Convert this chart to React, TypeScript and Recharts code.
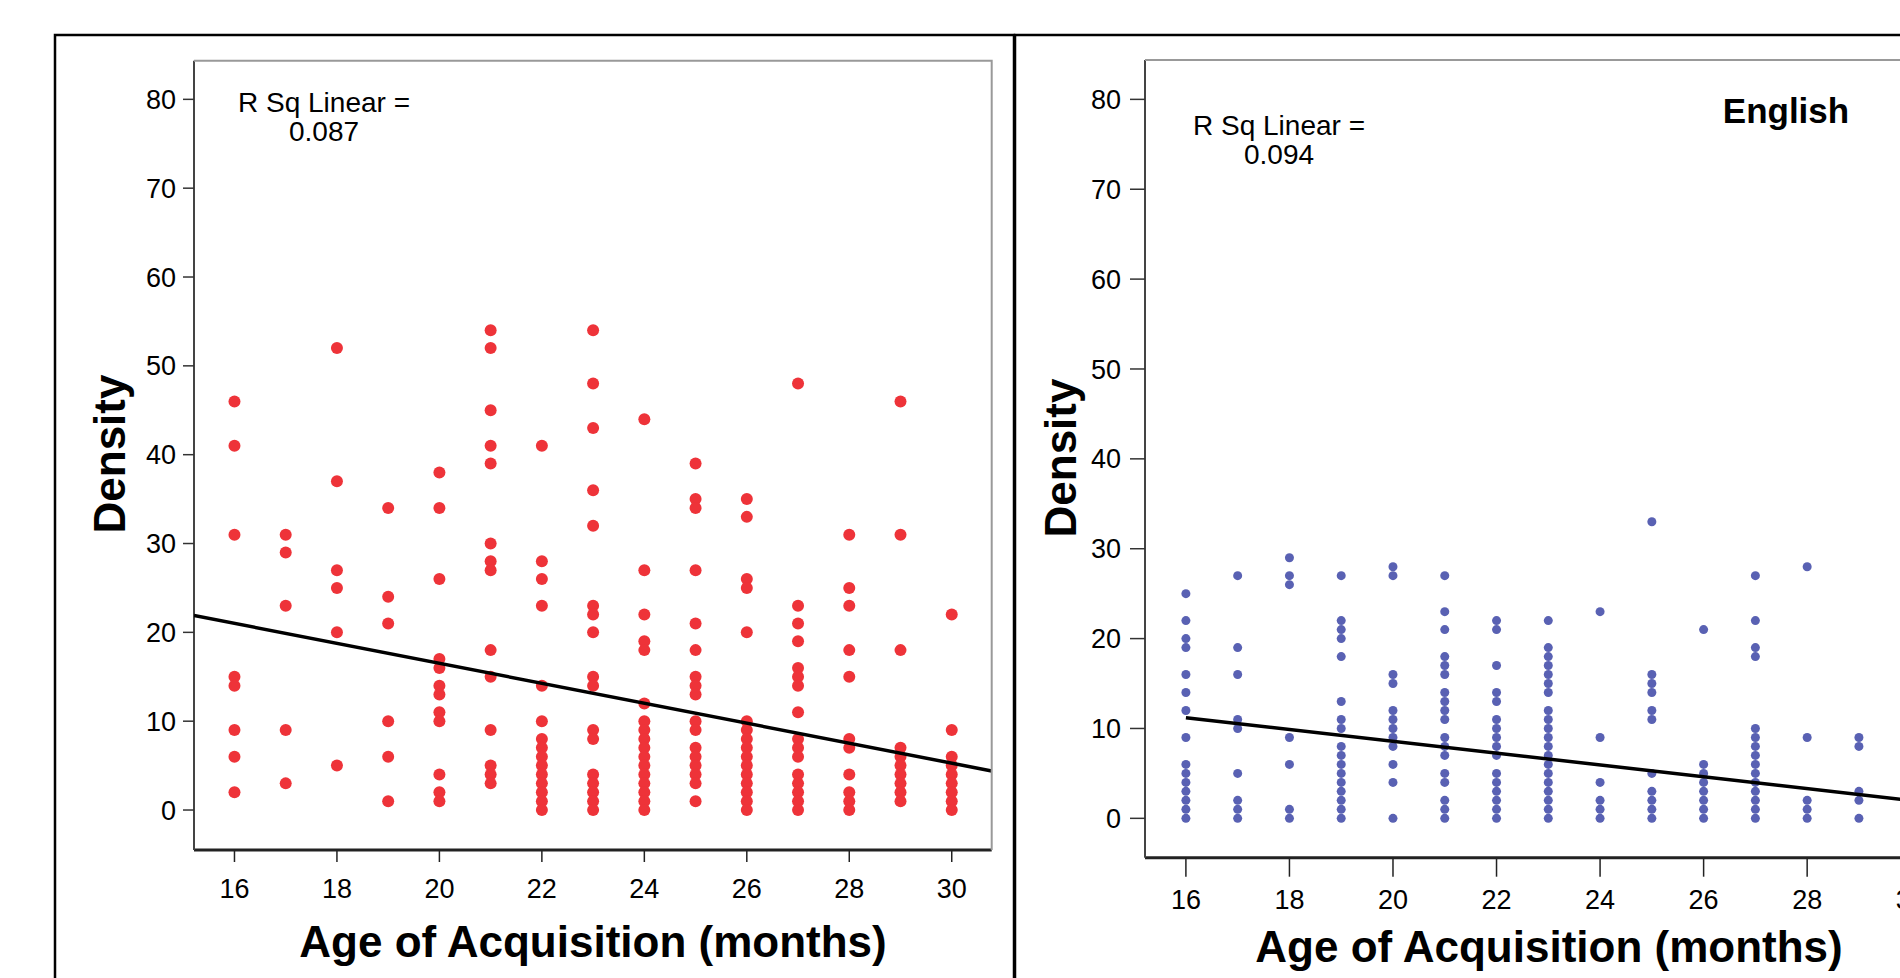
import { Scatter, ScatterChart, XAxis, YAxis } from "recharts";

const FONT = "'Liberation Sans', Arial, Helvetica, sans-serif";

const ageTicks = [16, 18, 20, 22, 24, 26, 28, 30];
const densityTicks = [0, 10, 20, 30, 40, 50, 60, 70, 80];

// left panel (red), one list of densities per month
const leftAges = [16, 17, 18, 19, 20, 21, 22, 23, 24, 25, 26, 27, 28, 29, 30];
const leftDensity = [
  [46, 41, 31, 15, 14, 9, 6, 2],
  [31, 29, 23, 9, 3],
  [52, 37, 27, 25, 20, 5],
  [34, 24, 21, 10, 6, 1],
  [38, 34, 26, 17, 16, 14, 13, 11, 10, 4, 2, 1],
  [54, 52, 45, 41, 39, 30, 28, 27, 18, 15, 9, 5, 4, 3],
  [41, 28, 26, 23, 14, 10, 8, 7, 6, 5, 4, 3, 2, 1, 0],
  [54, 48, 43, 36, 32, 23, 22, 20, 15, 14, 9, 8, 4, 3, 2, 1, 0],
  [44, 27, 22, 19, 18, 12, 10, 9, 8, 7, 6, 5, 4, 3, 2, 1, 0],
  [39, 35, 34, 27, 21, 18, 15, 14, 13, 10, 9, 7, 6, 5, 4, 3, 1],
  [35, 33, 26, 25, 20, 10, 9, 8, 7, 6, 5, 4, 3, 2, 1, 0],
  [48, 23, 21, 19, 16, 15, 14, 11, 8, 7, 6, 4, 3, 2, 1, 0],
  [31, 25, 23, 18, 15, 8, 7, 4, 2, 1, 0],
  [46, 31, 18, 7, 6, 5, 4, 3, 2, 1],
  [22, 9, 6, 5, 4, 3, 2, 1, 0],
];
const leftFit = [
  { age: 15.21, density: 21.9 },
  { age: 30.78, density: 4.4 },
];

// right panel (English, blue)
const rightAges = [16, 17, 18, 19, 20, 21, 22, 23, 24, 25, 26, 27, 28, 29];
const rightDensity = [
  [25, 22, 20, 19, 16, 14, 12, 9, 6, 5, 4, 3, 2, 1, 0],
  [27, 19, 16, 11, 10, 5, 2, 1, 0],
  [29, 27, 26, 9, 6, 1, 0],
  [27, 22, 21, 20, 18, 13, 11, 10, 8, 7, 6, 5, 4, 3, 2, 1, 0],
  [28, 27, 16, 15, 12, 11, 10, 9, 8, 6, 4, 0],
  [27, 23, 21, 18, 17, 16, 14, 13, 12, 11, 9, 8, 7, 5, 4, 2, 1, 0],
  [22, 21, 17, 14, 13, 11, 10, 9, 8, 7, 5, 4, 3, 2, 1, 0],
  [22, 19, 18, 17, 16, 15, 14, 12, 11, 10, 9, 8, 7, 6, 5, 4, 3, 2, 1, 0],
  [23, 9, 4, 2, 1, 0],
  [33, 16, 15, 14, 12, 11, 5, 3, 2, 1, 0],
  [21, 6, 5, 4, 3, 2, 1, 0],
  [27, 22, 19, 18, 10, 9, 8, 7, 6, 5, 4, 3, 2, 1, 0],
  [28, 9, 2, 1, 0],
  [9, 8, 3, 2, 0],
];
const rightFit = [
  { age: 16, density: 11.2 },
  { age: 30, density: 2.0 },
];

function toPoints(ages: number[], values: number[][]) {
  return ages.flatMap((age, i) => values[i].map((density) => ({ age, density })));
}

interface PanelProps {
  left: number
  width: number
  margin: { top: number; right: number; bottom: number; left: number }
  yAxisWidth: number
  xAxisHeight: number
  xDomain: [number, number]
  yDomain: [number, number]
  points: { age: number; density: number }[]
  fit: { age: number; density: number }[]
  color: string
  radius: number
  xTick: [number, number]
  yTick: [number, number]
}

function Panel(p: PanelProps) {
  const tickStyle = { fill: "#000", fontSize: 27, fontFamily: FONT };
  const dot = (s: any) => <circle cx={s.cx} cy={s.cy} r={p.radius} fill={p.color} />;
  return (
    <div style={{ position: "absolute", left: p.left, top: 0 }}>
      <ScatterChart width={p.width} height={978} margin={p.margin}>
        <XAxis
          type="number"
          dataKey="age"
          domain={p.xDomain}
          ticks={ageTicks}
          allowDataOverflow
          height={p.xAxisHeight}
          tickSize={p.xTick[0]}
          tickMargin={p.xTick[1]}
          tick={tickStyle}
          tickLine={{ stroke: "#222", strokeWidth: 1.5 }}
          axisLine={{ stroke: "#222", strokeWidth: 3 }}
        />
        <YAxis
          type="number"
          dataKey="density"
          domain={p.yDomain}
          ticks={densityTicks}
          allowDataOverflow
          width={p.yAxisWidth}
          tickSize={p.yTick[0]}
          tickMargin={p.yTick[1]}
          tick={tickStyle}
          tickLine={{ stroke: "#333", strokeWidth: 1.5 }}
          axisLine={{ stroke: "#444", strokeWidth: 2 }}
        />
        <Scatter data={p.points} shape={dot} isAnimationActive={false} />
        <Scatter
          data={p.fit}
          shape={() => <g />}
          line={{ stroke: "#000", strokeWidth: 3.5 }}
          isAnimationActive={false}
        />
      </ScatterChart>
    </div>
  );
}

export default function App() {
  const txt = { fontFamily: FONT, fill: "#000" };
  return (
    <div
      style={{
        position: "absolute",
        left: 0,
        top: 0,
        width: 1900,
        height: 978,
        overflow: "hidden",
        background: "#fff",
      }}
    >
      <Panel
        left={0}
        width={1013}
        margin={{ top: 60.7, right: 21.3, bottom: 0, left: 55 }}
        yAxisWidth={139}
        xAxisHeight={128}
        xDomain={[15.21, 30.78]}
        yDomain={[-4.5, 84.35]}
        points={toPoints(leftAges, leftDensity)}
        fit={leftFit}
        color="#EE3339"
        radius={6}
        xTick={[12, 17]}
        yTick={[11, 7]}
      />
      <Panel
        left={1015}
        width={960}
        margin={{ top: 60, right: 23.4, bottom: 0, left: 0 }}
        yAxisWidth={130}
        xAxisHeight={120.3}
        xDomain={[15.21, 30.79]}
        yDomain={[-4.38, 84.38]}
        points={toPoints(rightAges, rightDensity)}
        fit={rightFit}
        color="#5961B3"
        radius={4.5}
        xTick={[19, 13]}
        yTick={[15, 9]}
      />
      <svg
        width={1900}
        height={978}
        style={{ position: "absolute", left: 0, top: 0, pointerEvents: "none" }}
      >
        <rect x={55} y={35} width={959} height={1000} fill="none" stroke="#000" strokeWidth={2.5} />
        <rect x={1015} y={35} width={1000} height={1000} fill="none" stroke="#000" strokeWidth={2.5} />

        {/* plot box: light top and right edges */}
        <polyline points="194,60.7 991.7,60.7 991.7,850" fill="none" stroke="#999" strokeWidth={2} />
        <line x1={1145} y1={60} x2={1900} y2={60} stroke="#999" strokeWidth={2} />

        <text x={125} y={454} transform="rotate(-90 125 454)" textAnchor="middle" fontSize={44} fontWeight="bold" {...txt}>
          Density
        </text>
        <text x={593} y={957} textAnchor="middle" fontSize={44} fontWeight="bold" {...txt}>
          Age of Acquisition (months)
        </text>
        <text x={324} y={112} textAnchor="middle" fontSize={28} {...txt}>
          R Sq Linear =
        </text>
        <text x={324} y={140.5} textAnchor="middle" fontSize={28} {...txt}>
          0.087
        </text>

        <text x={1076} y={458} transform="rotate(-90 1076 458)" textAnchor="middle" fontSize={44} fontWeight="bold" {...txt}>
          Density
        </text>
        <text x={1549} y={962} textAnchor="middle" fontSize={44} fontWeight="bold" {...txt}>
          Age of Acquisition (months)
        </text>
        <text x={1279} y={135} textAnchor="middle" fontSize={28} {...txt}>
          R Sq Linear =
        </text>
        <text x={1279} y={164} textAnchor="middle" fontSize={28} {...txt}>
          0.094
        </text>
        <text x={1786} y={122.5} textAnchor="middle" fontSize={35} fontWeight="bold" {...txt}>
          English
        </text>
      </svg>
    </div>
  );
}
